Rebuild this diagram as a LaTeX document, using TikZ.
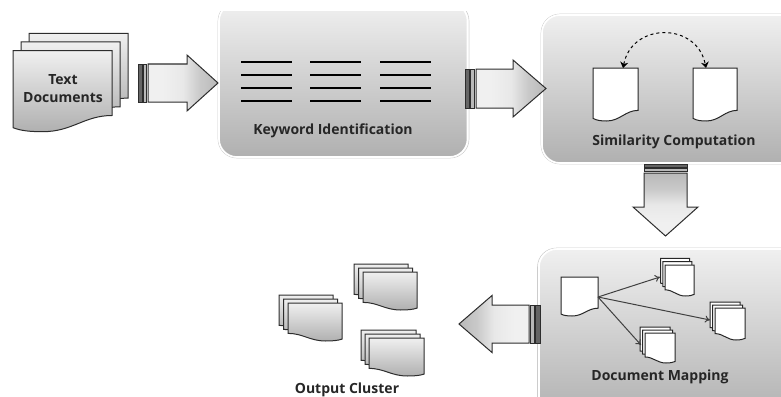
\documentclass[tikz,border=0pt]{standalone}
\usepackage{fontspec}
\setmainfont{Open Sans}
\usetikzlibrary{arrows.meta}

\pgfdeclarehorizontalshading{arrowfade}{100bp}{color(0bp)=(gray!12); color(36bp)=(gray!12); color(50bp)=(gray!18); color(62bp)=(gray!42); color(100bp)=(gray!80)}

\tikzset{
  panel/.style={rounded corners=18pt,draw=white,line width=1.6pt,top color=gray!12,bottom color=gray!62},
  panelrim/.style={rounded corners=19pt,draw=gray!40,line width=.6pt},
  graypage/.style={draw=gray!35!black,line width=1pt,top color=gray!12,bottom color=gray!62},
  whitepage/.style={draw=black!85,line width=1pt,fill=white},
  steptext/.style={font=\bfseries\fontsize{14}{18}\selectfont,text=black!85,align=center},
  keyline/.style={line width=2.2pt,black},
  linkarrow/.style={draw=black!75,line width=1pt,-{To[length=5pt,width=7pt]}}
}

\newcommand{\docpage}[5]{
  \path[#1,shift={(#2,#3)},xscale=#4/100,yscale=#5/100] (0,0) -- (100,0) -- (100,80) .. controls (72,80) and (60,100) .. (30,100) .. controls (18,100) and (8,99) .. (0,95) -- cycle;
}
\newcommand{\docstack}[7]{
  \foreach \i in {2,1,0} {
    \docpage{#1}{#2+\i*#6}{#3+\i*#7}{#4}{#5}
  }
}
\newcommand{\blockarrow}[8]{
  \begin{scope}[shift={(#1,#2)},rotate=#3]
    \path[draw=gray!35!black,line width=.9pt,fill=gray!80!black] (0,-#5) rectangle (#8*.45,#5);
    \path[draw=gray!35!black,line width=.9pt,fill=gray!55] (#8*.55,-#5) rectangle (#8*.95,#5);
    \path[draw=gray!35!black,line width=1pt,shading=arrowfade,shading angle=#3*-1] (#8+1,-#5) -- (#4-#7,-#5) -- (#4-#7,-#6) -- (#4,0) -- (#4-#7,#6) -- (#4-#7,#5) -- (#8+1,#5) -- cycle;
  \end{scope}
}

\begin{document}
\begin{tikzpicture}[x=1pt,y=-1pt]
  \useasboundingbox (0,0) rectangle (781,396);

  \begin{scope}
    \clip (0,12) rectangle (781,396);
    \draw[panelrim] (218,2) rectangle (469,158);
    \path[panel] (219,3) rectangle (467.5,157);
    \draw[panelrim] (541,14) rectangle (800,164);
    \path[panel] (542,15) rectangle (799,163);
    \draw[panelrim] (537.5,248) rectangle (800,420);
    \path[panel] (539,249) rectangle (799,419);
  \end{scope}

  \docstack{graypage}{13}{50.7}{99}{81}{8}{-8.7}
  \node (textdocs) at (63,89) [steptext] {Text\\Documents};

  \blockarrow{138}{83}{0}{80}{19}{28}{31}{9}

  \foreach \x in {241,310,380} {
    \foreach \y in {62,75,88,101} {
      \draw[keyline] (\x,\y) -- ++(51,0);
    }
  }
  \node (keyword) at (333,131) [steptext] {Keyword Identification};

  \blockarrow{465}{88.5}{0}{81}{19.5}{28.5}{33}{10}

  \docpage{whitepage}{593}{68}{45}{53}
  \docpage{whitepage}{693}{68}{44}{53}
  \coordinate (simleft) at (623,68);
  \coordinate (simright) at (706,68);
  \draw[line width=1pt,dashed,{Stealth[length=6pt,width=8pt]}-{Stealth[length=6pt,width=8pt]}] (simleft) .. controls (632,22) and (697,22) .. (simright);
  \node (similarity) at (674,142) [steptext] {Similarity Computation};

  \blockarrow{665.5}{164}{-90}{72}{21.5}{32.5}{29}{8}

  \docpage{whitepage}{561}{277}{37}{39}
  \docstack{whitepage}{694}{265}{-29}{31}{-2.2}{-3.3}
  \docstack{whitepage}{745}{308}{-30}{32}{-2.5}{-3}
  \docstack{whitepage}{675}{333}{-30}{30}{-2.5}{-3}
  \coordinate (mapsrc) at (598,297);
  \coordinate (maptop) at (660,277);
  \coordinate (mapright) at (710,320);
  \coordinate (maplow) at (641,345);
  \draw[linkarrow] (mapsrc) -- (maptop);
  \draw[linkarrow] (mapsrc) -- (mapright);
  \draw[linkarrow] (mapsrc) -- (maplow);
  \node (mapping) at (660,377) [steptext] {Document Mapping};

  \blockarrow{540}{324}{180}{81}{19}{28.5}{33}{10}

  \docstack{graypage}{342}{303}{-54}{38}{-4.5}{-4}
  \docstack{graypage}{417}{272}{-54}{38}{-4.5}{-4}
  \docstack{graypage}{424}{338}{-55}{38}{-4}{-4}
  \node (cluster) at (347,390) [steptext] {Output Cluster};
\end{tikzpicture}
\end{document}
